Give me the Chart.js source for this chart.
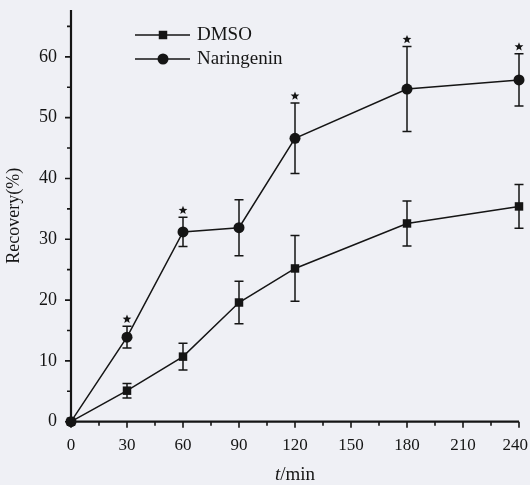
<!DOCTYPE html>
<html>
<head>
<meta charset="utf-8">
<script src="https://cdn.jsdelivr.net/npm/chart.js@4.4.1/dist/chart.umd.min.js"></script>
<style>
  html, body { margin: 0; padding: 0; background: #eff0f5; }
  #wrap { width: 530px; height: 485px; }
</style>
</head>
<body>
<div id="wrap"><canvas id="chart" width="530" height="485"></canvas></div>
<script>
// data
const times = [0, 30, 60, 90, 120, 180, 240];
const dmso = [0, 5.1, 10.7, 19.6, 25.2, 32.6, 35.4];
const dmsoErr = [0, 1.2, 2.2, 3.5, 5.4, 3.7, 3.6];
const naringenin = [0, 13.9, 31.2, 31.9, 46.6, 54.7, 56.2];
const naringeninErr = [0, 1.8, 2.4, 4.6, 5.8, 7.0, 4.3];
const significant = [false, true, true, false, true, true, true];
const xTicks = [0, 30, 60, 90, 120, 150, 180, 210, 240];
const yTicks = [0, 10, 20, 30, 40, 50, 60];

const INK = '#151515';
const SERIF = '"Liberation Serif", "Times New Roman", serif';

const toPoints = (vals) => vals.map((v, i) => ({ x: times[i], y: v }));

// axes, minor ticks, error bars, stars, legend, x labels and x title
const figurePlugin = {
    id: 'figure',
    beforeDraw(chart) {
        const ctx = chart.ctx;
        ctx.save();
        ctx.fillStyle = '#eff0f5';
        ctx.fillRect(0, 0, chart.width, chart.height);
        ctx.restore();
    },
    afterDatasetsDraw(chart) {
        const ctx = chart.ctx;
        const xs = chart.scales.x, ys = chart.scales.y;
        const area = chart.chartArea;
        ctx.save();
        ctx.strokeStyle = INK;
        ctx.fillStyle = INK;

        // error bars
        const sets = [[dmso, dmsoErr, null], [naringenin, naringeninErr, significant]];
        ctx.lineWidth = 1.5;
        sets.forEach(([vals, errs, sig]) => {
            vals.forEach((v, i) => {
                const px = xs.getPixelForValue(times[i]);
                const top = ys.getPixelForValue(v + errs[i]);
                if (errs[i] > 0) {
                    const bot = ys.getPixelForValue(v - errs[i]);
                    ctx.beginPath();
                    ctx.moveTo(px, top); ctx.lineTo(px, bot);
                    ctx.moveTo(px - 4.5, top); ctx.lineTo(px + 4.5, top);
                    ctx.moveTo(px - 4.5, bot); ctx.lineTo(px + 4.5, bot);
                    ctx.stroke();
                }
                if (sig && sig[i]) drawStar(ctx, px, top - 7, 4.6, 2);
            });
        });

        // axis lines
        ctx.lineWidth = 2.2;
        ctx.beginPath();
        ctx.moveTo(area.left, area.top);
        ctx.lineTo(area.left, area.bottom + 1);
        ctx.moveTo(area.left - 1, area.bottom);
        ctx.lineTo(area.right, area.bottom);
        ctx.stroke();

        // ticks (major + minor)
        ctx.lineWidth = 1.6;
        ctx.beginPath();
        for (let v = 0; v <= 240; v += 15) {
            const px = xs.getPixelForValue(v);
            const len = v % 30 === 0 ? 6 : 4;
            ctx.moveTo(px, area.bottom); ctx.lineTo(px, area.bottom + len);
        }
        for (let v = 0; v <= 65; v += 5) {
            const py = ys.getPixelForValue(v);
            const len = v % 10 === 0 ? 6 : 4;
            ctx.moveTo(area.left, py); ctx.lineTo(area.left - len, py);
        }
        ctx.stroke();

        // x tick labels, kept inside the canvas at the right edge
        ctx.font = '17px ' + SERIF;
        ctx.textBaseline = 'middle';
        ctx.textAlign = 'center';
        xTicks.forEach(v => {
            const label = String(v);
            const w = ctx.measureText(label).width;
            const px = Math.min(xs.getPixelForValue(v), chart.width - w / 2 - 2);
            ctx.fillText(label, px, area.bottom + 24);
        });

        // legend
        const legendRows = [[0, 35], [1, 59]];
        legendRows.forEach(([di, ly]) => {
            const ds = chart.data.datasets[di];
            ctx.lineWidth = 1.5;
            ctx.beginPath();
            ctx.moveTo(135, ly); ctx.lineTo(190, ly);
            ctx.stroke();
            Chart.helpers.drawPoint(ctx, {
                pointStyle: ds.pointStyle, radius: ds.pointRadius, borderWidth: 0
            }, 163, ly);
            ctx.font = '19px ' + SERIF;
            ctx.textBaseline = 'middle';
            ctx.textAlign = 'left';
            ctx.fillText(ds.label, 197, ly);
        });

        // x title "t/min" with italic t
        ctx.textBaseline = 'middle';
        ctx.textAlign = 'left';
        const cx = (area.left + area.right) / 2;
        ctx.font = 'italic 19px ' + SERIF;
        const tW = ctx.measureText('t').width;
        ctx.font = '19px ' + SERIF;
        const rW = ctx.measureText('/min').width;
        const sx = cx - (tW + rW) / 2;
        ctx.font = 'italic 19px ' + SERIF;
        ctx.fillText('t', sx, 475);
        ctx.font = '19px ' + SERIF;
        ctx.fillText('/min', sx + tW, 475);
        ctx.restore();
    }
};

function drawStar(ctx, cx, cy, outer, inner) {
    ctx.beginPath();
    for (let k = 0; k < 10; k++) {
        const r = k % 2 === 0 ? outer : inner;
        const a = -Math.PI / 2 + k * Math.PI / 5;
        const px = cx + r * Math.cos(a), py = cy + r * Math.sin(a);
        if (k === 0) ctx.moveTo(px, py); else ctx.lineTo(px, py);
    }
    ctx.closePath();
    ctx.fill();
}

new Chart(document.getElementById('chart'), {
    type: 'line',
    data: {
        datasets: [{
            label: 'DMSO',
            data: toPoints(dmso),
            borderColor: INK,
            backgroundColor: INK,
            borderWidth: 1.5,
            pointStyle: 'rect',
            pointRadius: 6,
            pointBorderWidth: 0,
            tension: 0,
            clip: false
        }, {
            label: 'Naringenin',
            data: toPoints(naringenin),
            borderColor: INK,
            backgroundColor: INK,
            borderWidth: 1.5,
            pointStyle: 'circle',
            pointRadius: 5.5,
            pointBorderWidth: 0,
            tension: 0,
            clip: false
        }]
    },
    options: {
        responsive: false,
        animation: false,
        devicePixelRatio: 1,
        layout: { padding: { left: 0, right: 11, top: 10, bottom: 0 } },
        plugins: {
            legend: { display: false },
            tooltip: { enabled: false }
        },
        scales: {
            x: {
                type: 'linear',
                min: 0,
                max: 240,
                afterBuildTicks: (s) => { s.ticks = xTicks.map(v => ({ value: v })); },
                afterFit: (s) => { s.height = 63.3; s.paddingLeft = 0; s.paddingRight = 0; },
                grid: { display: false, drawTicks: false },
                border: { display: false },
                ticks: { display: false },
                title: { display: false }
            },
            y: {
                min: 0,
                max: 67.7,
                afterBuildTicks: (s) => { s.ticks = yTicks.map(v => ({ value: v })); },
                afterFit: (s) => { s.width = 71; s.paddingTop = 0; s.paddingBottom = 0; },
                grid: { display: false, drawTicks: false },
                border: { display: false },
                ticks: {
                    color: INK,
                    padding: 14,
                    font: { family: SERIF, size: 18 }
                },
                title: {
                    display: true,
                    text: 'Recovery(%)',
                    color: INK,
                    padding: { top: 5, bottom: 0 },
                    font: { family: SERIF, size: 18, lineHeight: 1 }
                }
            }
        }
    },
    plugins: [figurePlugin]
});
</script>
</body>
</html>
